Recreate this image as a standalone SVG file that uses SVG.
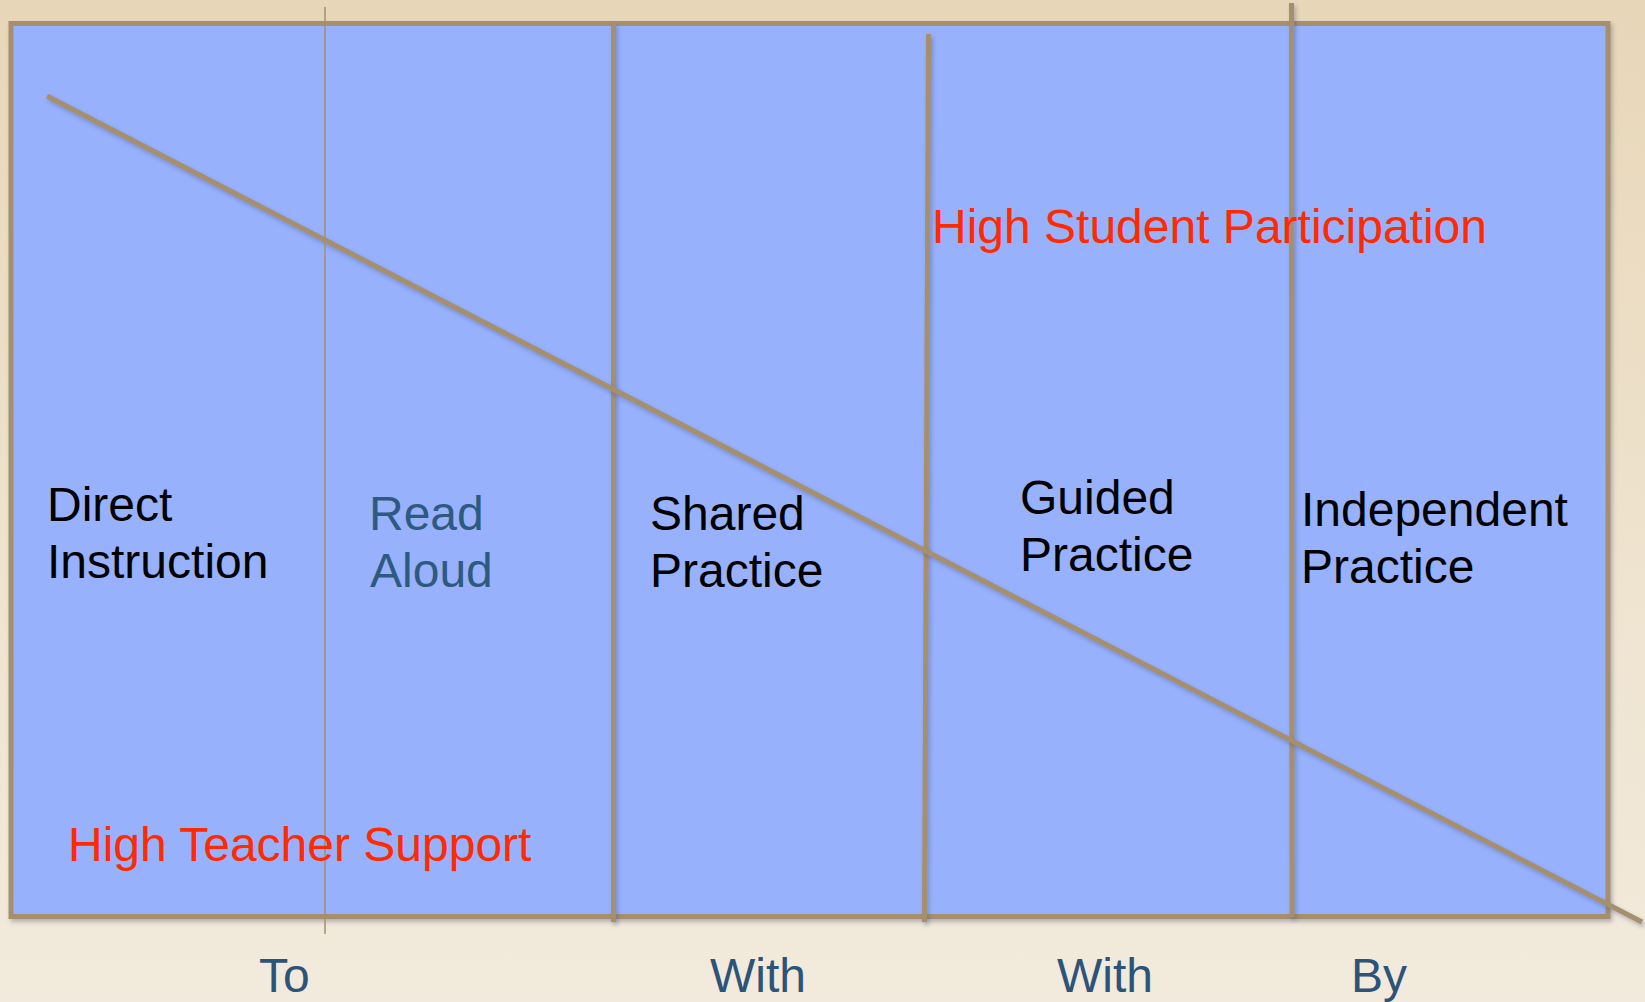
<svg xmlns="http://www.w3.org/2000/svg" width="1645" height="1002" viewBox="0 0 1645 1002">
  <defs>
    <linearGradient id="bg" x1="0" y1="0" x2="0" y2="1">
      <stop offset="0" stop-color="#e8d6b8"/>
      <stop offset="0.6" stop-color="#efe4d0"/>
      <stop offset="1" stop-color="#f2eadc"/>
    </linearGradient>
    <filter id="sh" filterUnits="userSpaceOnUse" x="0" y="0" width="1645" height="1002">
      <feDropShadow dx="2" dy="3" stdDeviation="2" flood-color="#3a4a7a" flood-opacity="0.35"/>
    </filter>
  </defs>
  <style>
    .frame { fill: #97b1fd; stroke: #a58f6d; stroke-width: 5; }
    .bar { stroke: #a58f6d; stroke-width: 5; fill: none; }
    .thin { stroke: #a58f6d; stroke-width: 1.5; fill: none; }
    text { font-family: "Liberation Sans", Arial, sans-serif; font-size: 48px; }
    .blk { fill: #000000; }
    .slate { fill: #2e5a80; }
    .red { fill: #ff2a00; }
    .axis { fill: #2c5378; }
  </style>
  <rect x="0" y="0" width="1645" height="1002" fill="url(#bg)"/>

  <g id="frame">
    <rect class="frame" x="11" y="23.5" width="1597" height="893" filter="url(#sh)"/>
  </g>

  <g id="connectors">
    <line class="bar" x1="613.5" y1="23" x2="613.5" y2="922" filter="url(#sh)"/>
    <line class="bar" x1="928.5" y1="34" x2="924.5" y2="922" filter="url(#sh)"/>
    <line class="bar" x1="1291.5" y1="3" x2="1292" y2="917" filter="url(#sh)"/>
    <line class="bar" x1="47" y1="96" x2="1642" y2="922" filter="url(#sh)"/>
    <line class="thin" x1="325" y1="7" x2="325" y2="934"/>
  </g>

  <g id="direct-instruction">
    <text class="blk" x="47" y="521">Direct</text>
    <text class="blk" x="47" y="578">Instruction</text>
  </g>
  <g id="read-aloud">
    <text class="slate" x="369" y="530">Read</text>
    <text class="slate" x="370" y="587">Aloud</text>
  </g>
  <g id="shared-practice">
    <text class="blk" x="650" y="530">Shared</text>
    <text class="blk" x="650" y="587">Practice</text>
  </g>
  <g id="guided-practice">
    <text class="blk" x="1020" y="514">Guided</text>
    <text class="blk" x="1020" y="571">Practice</text>
  </g>
  <g id="independent-practice">
    <text class="blk" x="1301" y="526">Independent</text>
    <text class="blk" x="1301" y="583">Practice</text>
  </g>
  <g id="high-student">
    <text class="red" x="932" y="243">High Student Participation</text>
  </g>
  <g id="high-teacher">
    <text class="red" x="68" y="861">High Teacher Support</text>
  </g>
  <g id="axis-labels">
    <text class="axis" x="259" y="992">To</text>
    <text class="axis" x="710" y="992">With</text>
    <text class="axis" x="1057" y="992">With</text>
    <text class="axis" x="1351" y="992">By</text>
  </g>
</svg>
